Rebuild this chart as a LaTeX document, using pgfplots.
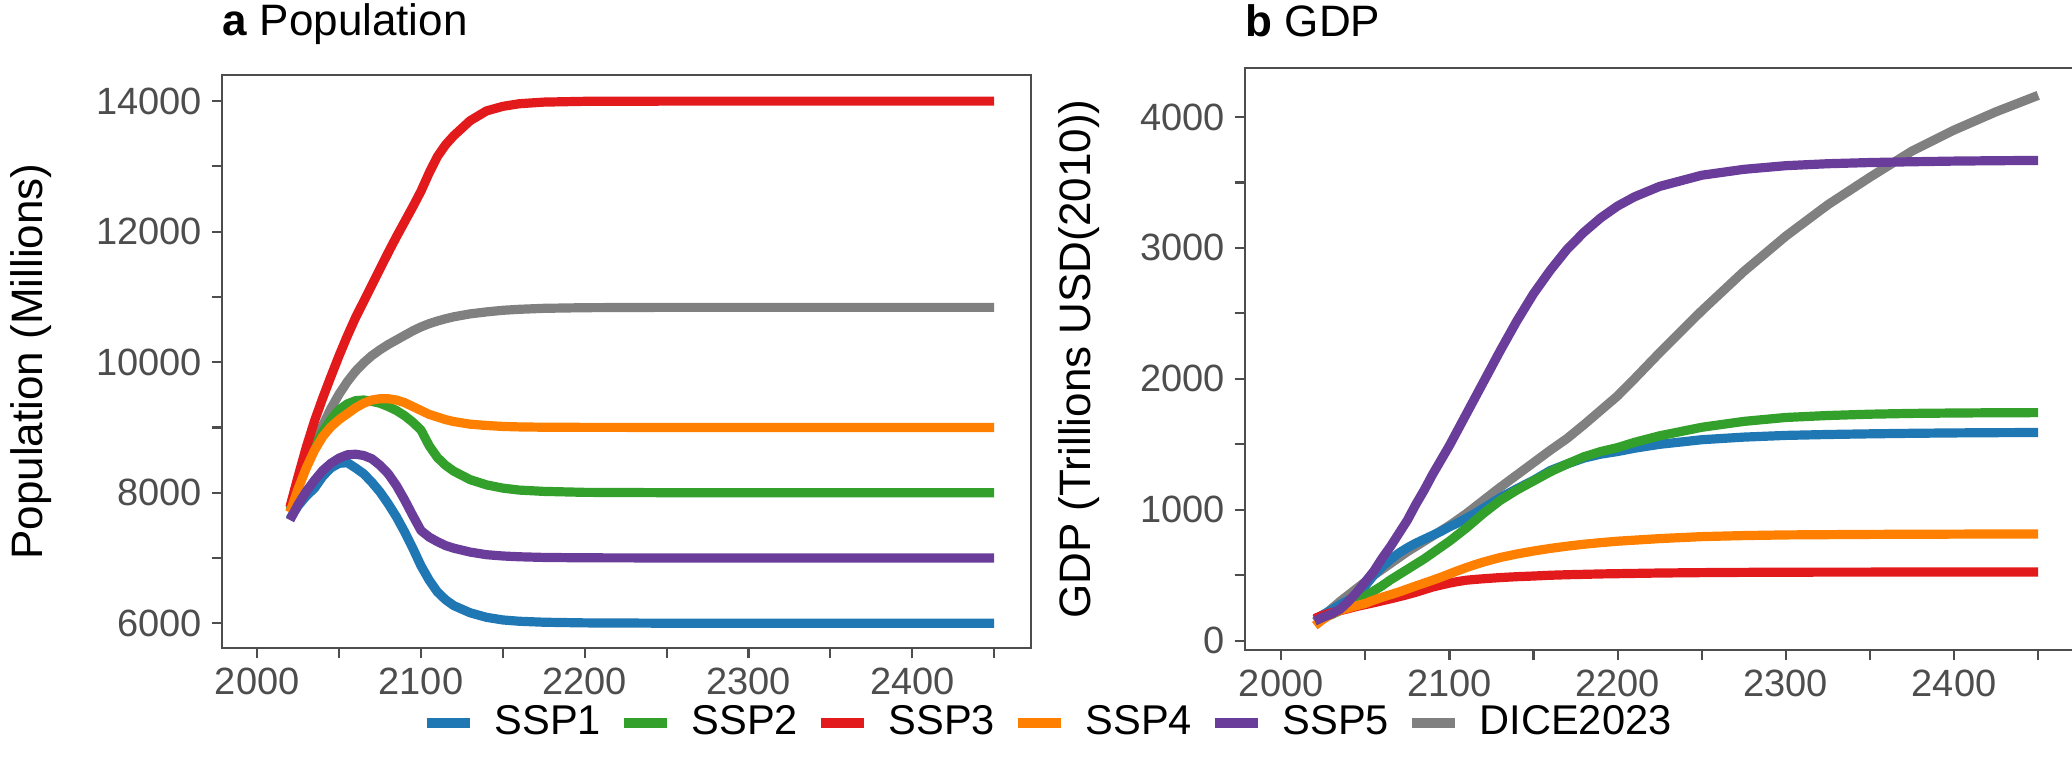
\documentclass[border=0pt]{standalone}
\usepackage{fontspec}
\setmainfont{Liberation Sans}
\usepackage{pgfplots}
\usepackage{pgfplotstable}
\pgfplotsset{compat=1.18}

\definecolor{sspA}{HTML}{1F78B4}
\definecolor{sspB}{HTML}{33A02C}
\definecolor{sspC}{HTML}{E31A1C}
\definecolor{sspD}{HTML}{FF7F00}
\definecolor{sspE}{HTML}{6A3D9A}
\definecolor{dice}{HTML}{808080}
\definecolor{grey30}{HTML}{4D4D4D}

\newcommand{\fsz}{\fontsize{11}{13.2}\selectfont}
\newcommand{\tsz}{\fontsize{9.5}{11.4}\selectfont}
\newcommand{\lsz}{\fontsize{10.4}{12.5}\selectfont}

% population (millions)
\pgfplotstableread{
year ssp1 ssp2 ssp3 ssp4 ssp5 dice
2020 7600 7720 7780 7700 7580 7760
2025 7800 8100 8250 8060 7820 8150
2030 7950 8420 8700 8380 8020 8500
2035 8070 8700 9100 8650 8190 8790
2040 8250 8930 9450 8860 8340 9030
2045 8380 9120 9780 9010 8450 9290
2050 8450 9270 10100 9120 8530 9510
2055 8460 9360 10400 9210 8580 9700
2060 8380 9410 10680 9300 8590 9860
2065 8290 9420 10930 9370 8570 9990
2070 8160 9400 11180 9420 8520 10100
2075 8010 9370 11430 9440 8420 10190
2080 7830 9320 11680 9440 8290 10270
2085 7630 9260 11920 9420 8110 10340
2090 7400 9180 12150 9380 7890 10410
2095 7150 9080 12380 9320 7650 10480
2100 6880 8960 12620 9260 7420 10540
2105 6660 8720 12900 9200 7320 10590
2110 6480 8540 13150 9160 7250 10630
2115 6360 8420 13330 9120 7190 10665
2120 6270 8330 13470 9090 7150 10695
2130 6160 8200 13700 9050 7090 10740
2140 6090 8120 13850 9030 7050 10770
2150 6050 8070 13920 9015 7030 10795
2160 6030 8040 13960 9008 7018 10810
2175 6015 8020 13985 9003 7008 10825
2200 6005 8005 13997 9001 7002 10835
2250 6000 8000 14000 9000 7000 10840
2300 6000 8000 14000 9000 7000 10840
2350 6000 8000 14000 9000 7000 10840
2400 6000 8000 14000 9000 7000 10840
2450 6000 8000 14000 9000 7000 10840
}\pop

% GDP (trillions USD 2010)
\pgfplotstableread{
year ssp1 ssp2 ssp3 ssp4 ssp5 dice
2020 165 150 170 115 150 145
2025 200 175 195 165 180 190
2030 235 200 215 205 205 245
2035 275 230 230 232 240 300
2040 310 270 245 250 300 350
2045 345 305 262 268 370 400
2050 420 340 276 285 450 450
2055 500 380 290 310 530 500
2060 565 420 305 332 630 545
2065 620 465 320 352 720 590
2070 670 505 336 372 820 635
2075 710 545 352 395 920 680
2080 745 585 370 418 1040 720
2085 775 625 390 440 1150 760
2090 805 670 410 462 1270 800
2095 835 715 425 485 1380 840
2100 870 760 440 510 1490 880
2105 900 810 452 535 1610 925
2110 935 860 462 558 1730 970
2115 970 915 468 580 1850 1020
2120 1010 970 473 600 1970 1070
2130 1090 1070 482 635 2210 1170
2140 1160 1150 489 662 2440 1265
2150 1225 1220 494 685 2650 1360
2160 1300 1290 500 705 2830 1455
2170 1350 1350 504 722 2990 1545
2180 1395 1405 507 737 3120 1650
2190 1425 1445 510 749 3230 1760
2200 1445 1475 512 760 3320 1870
2210 1470 1515 514 768 3390 2000
2225 1500 1565 517 780 3470 2200
2250 1535 1630 520 795 3555 2520
2275 1555 1675 522 803 3600 2820
2300 1568 1705 523 808 3628 3090
2325 1575 1720 524 810 3643 3330
2350 1580 1730 524 812 3652 3540
2375 1584 1736 525 813 3658 3740
2400 1587 1739 525 814 3663 3900
2425 1589 1741 525 815 3666 4040
2450 1590 1742 525 815 3668 4165
}\gdp

\pgfplotsset{
  panel/.style={
    scale only axis, anchor=south west,
    axis line style={draw=grey30, line width=0.55pt},
    tick style={draw=grey30, line width=0.55pt},
    tick align=outside, tick pos=left,
    major tick length=2.6pt, minor tick length=2.6pt,
    ticklabel style={font=\tsz, text=grey30, inner sep=2.2pt},
    /pgf/number format/assume math mode=true,
    /pgf/number format/1000 sep={},
    scaled ticks=false,
    xmin=1978.5, xmax=2472.5,
    xtick={2000,2100,2200,2300,2400},
    minor xtick={2050,2150,2250,2350,2450},
    label style={font=\fsz},
    every axis title/.style={at={(axis description cs:0,1)}, anchor=base west,
                 inner sep=0pt, font=\fsz},
    every axis plot/.append style={line width=2.3pt, line join=round},
  }
}

\begin{document}
\begin{tikzpicture}
\useasboundingbox (0,0) rectangle (518pt,193pt);

\begin{axis}[panel,
    at={(55.5pt,31pt)}, width=202.25pt, height=143.25pt,
    ymin=5620, ymax=14400,
    ytick={6000,8000,10000,12000,14000},
    minor ytick={7000,9000,11000,13000},
    ylabel={Population (Millions)},
    ylabel style={at={(axis description cs:-0.210,0.5)}, anchor=south, inner sep=0pt},
    title={\textbf{a} Population}, title style={yshift=9.8pt},
    legend columns=6,
    legend image code/.code={\draw[#1, line width=2.3pt] (0pt,0pt) -- (10.75pt,0pt);},
    legend style={at={(axis description cs:1.0247,-0.131)}, anchor=center,
        draw=none, fill=none, font=\lsz,
        /tikz/every odd column/.append style={column sep=3pt},
        /tikz/every even column/.append style={column sep=2.6pt}},
]
\addplot[dice, forget plot] table[x=year, y=dice] {\pop};
\addplot[sspA] table[x=year, y=ssp1] {\pop};
\addlegendentry{SSP1}
\addplot[sspB] table[x=year, y=ssp2] {\pop};
\addlegendentry{SSP2}
\addplot[sspC] table[x=year, y=ssp3] {\pop};
\addlegendentry{SSP3}
\addplot[sspD] table[x=year, y=ssp4] {\pop};
\addlegendentry{SSP4}
\addplot[sspE] table[x=year, y=ssp5] {\pop};
\addlegendentry{SSP5}
\addlegendimage{dice}
\addlegendentry{DICE2023}
\end{axis}

\begin{axis}[panel,
    at={(311.25pt,30.5pt)}, width=207.75pt, height=145.5pt,
    ymin=-71, ymax=4374,
    ytick={0,1000,2000,3000,4000},
    minor ytick={500,1500,2500,3500},
    ylabel={GDP (Trillions USD(2010))},
    ylabel style={at={(axis description cs:-0.1745,0.5)}, anchor=south, inner sep=0pt},
    title={\textbf{b} GDP}, title style={yshift=8pt},
]
\addplot[dice] table[x=year, y=dice] {\gdp};
\addplot[sspA] table[x=year, y=ssp1] {\gdp};
\addplot[sspB] table[x=year, y=ssp2] {\gdp};
\addplot[sspC] table[x=year, y=ssp3] {\gdp};
\addplot[sspD] table[x=year, y=ssp4] {\gdp};
\addplot[sspE] table[x=year, y=ssp5] {\gdp};
\end{axis}
\end{tikzpicture}
\end{document}
